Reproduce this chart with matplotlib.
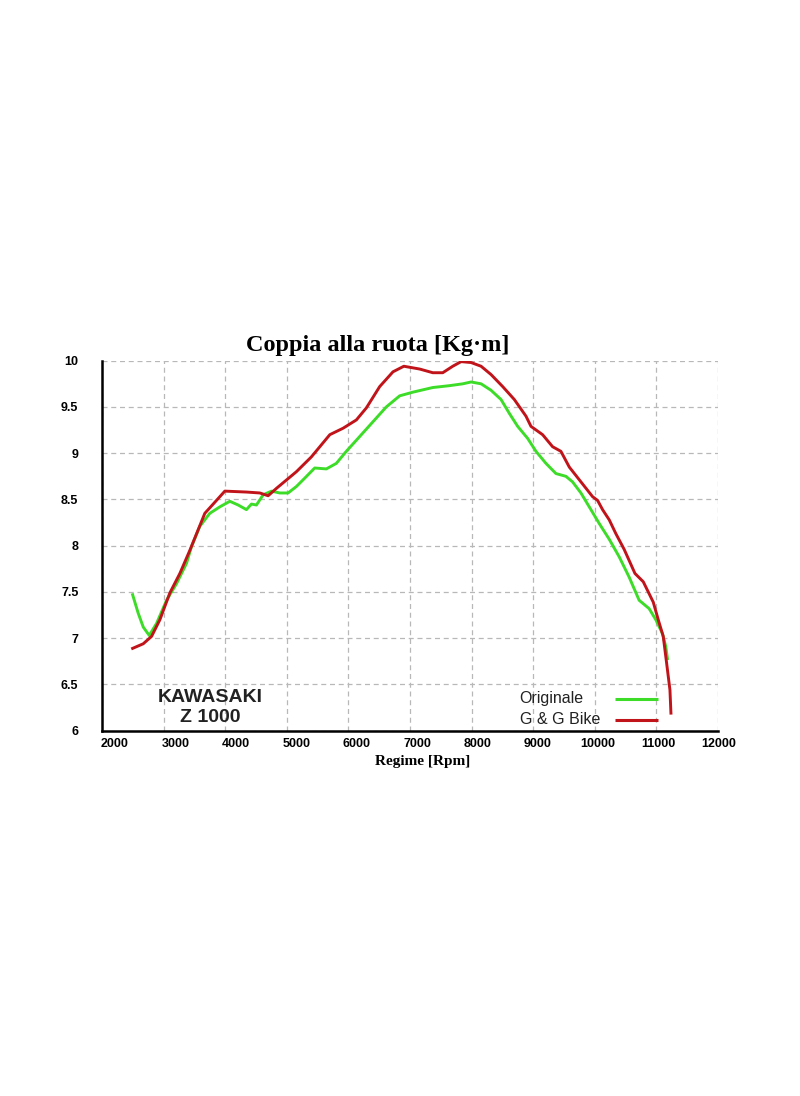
import matplotlib
matplotlib.use("Agg")
import matplotlib.pyplot as plt
import matplotlib.transforms as mtransforms

# Originale
rpm_orig = [2497, 2588, 2670, 2767, 2886, 3048, 3210, 3372, 3453, 3588, 3750, 3913,
            4075, 4210, 4345, 4426, 4507, 4616, 4751, 4886, 5021, 5156, 5291, 5453,
            5642, 5804, 5966, 6183, 6399, 6615, 6832, 7048, 7370, 7640, 7856, 7992,
            8154, 8316, 8478, 8613, 8748, 8910, 9045, 9207, 9369, 9531, 9639, 9775,
            9910, 10072, 10234, 10396, 10558, 10720, 10882, 10990, 11098, 11152, 11179]
torque_orig = [7.47, 7.27, 7.12, 7.03, 7.16, 7.41, 7.59, 7.81, 7.99, 8.21, 8.35, 8.42,
               8.48, 8.44, 8.39, 8.45, 8.44, 8.55, 8.59, 8.57, 8.57, 8.64, 8.73, 8.84,
               8.83, 8.89, 9.02, 9.18, 9.34, 9.50, 9.62, 9.66, 9.71, 9.73, 9.75, 9.77,
               9.75, 9.68, 9.58, 9.43, 9.29, 9.16, 9.02, 8.89, 8.78, 8.75, 8.69, 8.57,
               8.42, 8.24, 8.07, 7.88, 7.66, 7.41, 7.32, 7.20, 7.05, 6.91, 6.78]

# G & G Bike
rpm_gg = [2497, 2670, 2805, 2940, 3102, 3264, 3426, 3669, 3832, 3994, 4345, 4562,
          4697, 4832, 5156, 5399, 5698, 5914, 6130, 6292, 6508, 6724, 6900, 7156,
          7370, 7532, 7694, 7830, 7992, 8154, 8316, 8505, 8694, 8883, 8964, 9153,
          9315, 9450, 9586, 9775, 9964, 10045, 10126, 10234, 10342, 10477, 10652,
          10787, 10949, 11030, 11111, 11166, 11220, 11236]
torque_gg = [6.89, 6.94, 7.02, 7.20, 7.49, 7.70, 7.95, 8.35, 8.47, 8.59, 8.58, 8.57,
             8.54, 8.62, 8.80, 8.96, 9.20, 9.27, 9.36, 9.49, 9.72, 9.88, 9.94, 9.91,
             9.87, 9.87, 9.94, 9.99, 9.98, 9.94, 9.85, 9.72, 9.58, 9.40, 9.29, 9.20,
             9.07, 9.02, 8.85, 8.69, 8.53, 8.49, 8.39, 8.28, 8.13, 7.96, 7.70,
             7.61, 7.39, 7.20, 7.02, 6.73, 6.44, 6.19]

x_ticks = [2000, 3000, 4000, 5000, 6000, 7000, 8000, 9000, 10000, 11000, 12000]
y_ticks = [6, 6.5, 7, 7.5, 8, 8.5, 9, 9.5, 10]
y_labels = ["6", "6.5", "7", "7.5", "8", "8.5", "9", "9.5", "10"]
series_names = ["Originale", "G & G Bike"]
series_colors = ["#3ddc28", "#c0141a"]

fig = plt.figure(figsize=(8, 10.96), dpi=100)
ax = fig.add_axes([0.1275, 0.3333, 0.77, 0.3376])

ax.plot(rpm_orig, torque_orig, color=series_colors[0], lw=2.1, zorder=3)
ax.plot(rpm_gg, torque_gg, color=series_colors[1], lw=2.1, zorder=4)

ax.set_xlim(2000, 12000)
ax.set_ylim(6, 10)
ax.set_xticks(x_ticks)
ax.set_yticks(y_ticks)
ax.set_yticklabels(y_labels)
ax.tick_params(length=0, labelsize=9)
ax.tick_params(axis="y", pad=17)
ax.tick_params(axis="x", pad=5)
for lab in ax.get_xticklabels() + ax.get_yticklabels():
    lab.set_fontweight("bold")
    lab.set_family("Liberation Sans")
# the original x labels drift slightly relative to the grid
for i, lab in enumerate(ax.get_xticklabels()):
    shift = (13 - 1.2 * i) / 100
    offset = mtransforms.ScaledTranslation(shift, 0, fig.dpi_scale_trans)
    lab.set_transform(lab.get_transform() + offset)

ax.grid(True, color="#b8b8b8", linestyle=(0, (4, 3)), linewidth=0.9)
ax.spines["top"].set_visible(False)
ax.spines["right"].set_visible(False)
ax.spines["left"].set_linewidth(1.8)
ax.spines["bottom"].set_linewidth(1.8)

ax.set_title("Coppia alla ruota [Kg·m]", family="Liberation Serif",
             fontweight="bold", fontsize=17.5, pad=7, x=0.4483)
ax.set_xlabel("Regime [Rpm]", family="Liberation Serif", fontweight="bold",
              fontsize=11, labelpad=1)
ax.xaxis.set_label_coords(0.5211, -0.065)

ax.text(0.175, 0.062, "KAWASAKI\nZ 1000", transform=ax.transAxes, ha="center",
        va="center", family="Liberation Sans", fontweight="bold", fontsize=14,
        linespacing=1.2, color="#222222")

# legend: label on the left, line sample on the right
for i, (name, col) in enumerate(zip(series_names, series_colors)):
    yy = 0.085 - i * 0.057
    ax.text(0.678, yy + 0.003, name, transform=ax.transAxes, ha="left", va="center",
            family="Liberation Sans", fontsize=11.5, color="#222222")
    ax.plot([0.832, 0.902], [yy, yy], transform=ax.transAxes, color=col, lw=2.2,
            solid_capstyle="butt")

fig.savefig("out.png", dpi=100)
